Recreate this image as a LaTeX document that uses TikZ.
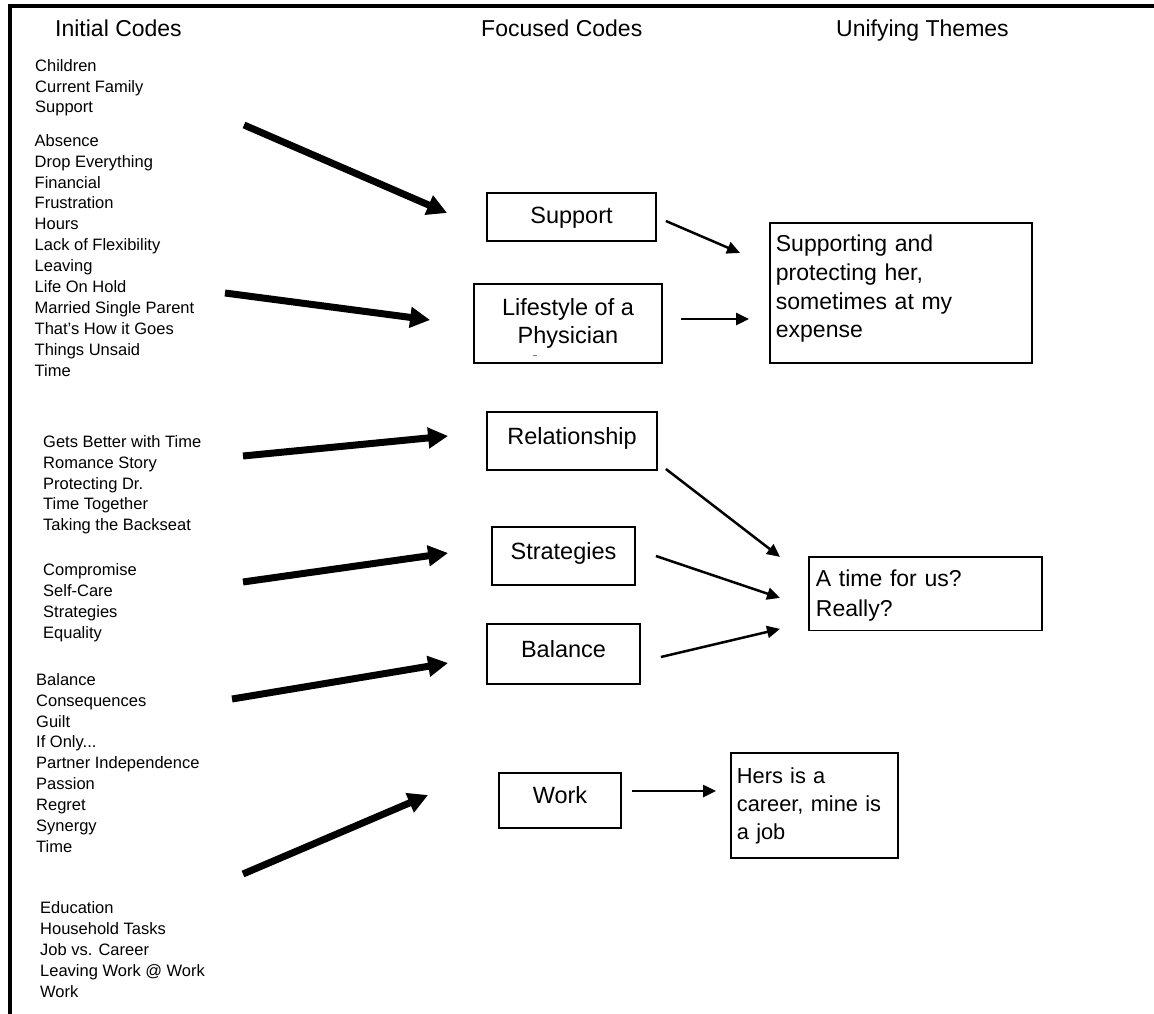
\documentclass[tikz,border=0pt]{standalone}
\usepackage{fontspec}
\setmainfont{Liberation Sans}
\usetikzlibrary{arrows.meta,calc}
\begin{document}
\begin{tikzpicture}[x=1pt,y=-1pt,
  frameline/.style={line width=4pt,line join=miter},
  header/.style={anchor=base west,inner sep=0pt,font=\fontsize{23}{27}\selectfont},
  codelist/.style={anchor=north west,inner sep=0pt,align=left,font=\fontsize{16.5}{20.9}\selectfont},
  fboxbase/.style={draw,line width=1.8pt,inner sep=0pt,align=center,font=\fontsize{23.5}{28.3}\selectfont},
  fbox/.style={fboxbase,text height=16.8pt,text depth=10pt},
  theme/.style={draw,line width=1.8pt,anchor=north west,inner ysep=0pt,align=left},
  bigarrow/.style={line width=7pt,-{Triangle[length=20pt,width=20pt]}},
  smallarrow/.style={line width=2.5pt,-{Triangle[length=13pt,width=12pt]}},
]
\useasboundingbox (0,0) rectangle (1154,1014);
\fill[white] (0,0) rectangle (1154,1014);
\draw[frameline] (10,1014) -- (10,6) -- (1154,6);

% headers
\node[header] (h1) at (55,37) {Initial Codes};
\node[header] (h2) at (481,37) {Focused Codes};
\node[header] (h3) at (836,37) {Unifying Themes};

% initial code lists
\node[codelist] (ic1) at (35,56) {\rule{0pt}{15pt}Children\\Current Family\\Support};
\node[codelist] (ic2) at (34.5,131) {\rule{0pt}{15pt}Absence\\Drop Everything\\Financial\\Frustration\\Hours\\Lack of Flexibility\\Leaving\\Life On Hold\\Married Single Parent\\That's How it Goes\\Things Unsaid\\Time};
\node[codelist] (ic3) at (43,432) {\rule{0pt}{15pt}Gets Better with Time\\Romance Story\\Protecting Dr.\\Time Together\\Taking the Backseat};
\node[codelist] (ic4) at (43,560.7) {\rule{0pt}{15pt}Compromise\\Self-Care\\Strategies\\Equality};
\node[codelist] (ic5) at (36,670) {\rule{0pt}{15pt}Balance\\Consequences\\Guilt\\If Only...\\Partner Independence\\Passion\\Regret\\Synergy\\Time};
\node[codelist] (ic6) at (40,898.3) {\rule{0pt}{15pt}Education\\Household Tasks\\Job vs. Career\\Leaving Work @ Work\\Work};

% focused codes
\node[fbox,text depth=3pt,minimum width=169pt,minimum height=48pt] (support) at (571.5,217) {Support};
\node[fboxbase,minimum width=188pt,minimum height=79pt] (lifestyle) at (568,323.5) {Lifestyle of a\\Physician};
\draw[line width=0.8pt,gray] (533,355) -- (537,355);
\node[fbox,minimum width=170pt,minimum height=58pt] (relationship) at (572,441) {Relationship};
\node[fbox,minimum width=143pt,minimum height=58pt] (strategies) at (563.5,556) {Strategies};
\node[fbox,minimum width=153pt,minimum height=60pt] (balance) at (563.5,654) {Balance};
\node[fbox,minimum width=122pt,minimum height=55pt] (work) at (560,800.5) {Work};

% unifying themes
\node[theme,inner xsep=6pt,text width=250pt,font=\fontsize{23}{28.7}\selectfont] (theme1) at (769,222)
  {\rule{0pt}{28.7pt}Supporting and\\protecting her,\\sometimes at my\\expense\rule[-25.2pt]{0pt}{25.2pt}};
\node[theme,inner xsep=7pt,text width=219pt,font=\fontsize{23}{29.5}\selectfont] (theme2) at (808,556)
  {\rule{0pt}{30pt}A time for us?\\Really?\rule[-14pt]{0pt}{14pt}};
\node[theme,inner xsep=6pt,text width=155pt,font=\fontsize{21.8}{28}\selectfont] (theme3) at (730,752)
  {\rule{0pt}{30.7pt}Hers is a\\career, mine is\\a job\rule[-18pt]{0pt}{18pt}};

% thick arrows: initial codes -> focused codes
\coordinate (a1s) at (244,125);
\coordinate (a2s) at (225,293);
\coordinate (a3s) at (243,456);
\coordinate (a4s) at (243,582);
\coordinate (a5s) at (232,699);
\coordinate (a6s) at (243,874);
\draw[bigarrow] (a1s) -- ($(support.west)+(-39,-4)$);
\draw[bigarrow] (a2s) -- ($(lifestyle.west)+(-43,-3.5)$);
\draw[bigarrow] (a3s) -- ($(relationship.west)+(-38,-5)$);
\draw[bigarrow] (a4s) -- ($(strategies.west)+(-43,-3)$);
\draw[bigarrow] (a5s) -- ($(balance.west)+(-38,9)$);
\draw[bigarrow] (a6s) -- ($(work.west)+(-70,-5.5)$);

% thin arrows: focused codes -> themes
\coordinate (b2s) at ($(lifestyle.east)+(18,-4.5)$);
\coordinate (b6s) at ($(work.east)+(10,-9.5)$);
\draw[smallarrow] ($(support.east)+(9,4)$) -- ($(theme1.west)+(-29,-40)$);
\draw[smallarrow] (b2s) -- ($(b2s -| theme1.west)+(-20,0)$);
\draw[smallarrow] ($(relationship.east)+(8,28)$) -- ($(theme2.west)+(-28,-36.75)$);
\draw[smallarrow] ($(strategies.east)+(20,0)$) -- ($(theme2.west)+(-28,4.25)$);
\draw[smallarrow] ($(balance.east)+(20,3)$) -- ($(theme2.west)+(-28,35.25)$);
\draw[smallarrow] (b6s) -- ($(b6s -| theme3.west)+(-14,0)$);
\end{tikzpicture}
\end{document}
